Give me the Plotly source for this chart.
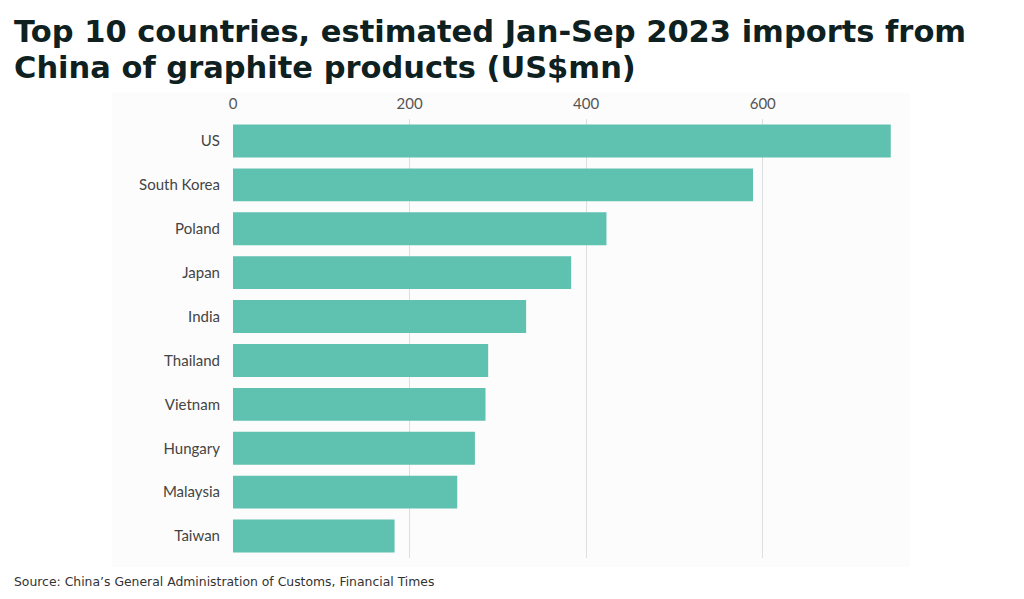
import plotly.graph_objects as go

countries = ["US", "South Korea", "Poland", "Japan", "India", "Thailand",
             "Vietnam", "Hungary", "Malaysia", "Taiwan"]
values = [745, 589, 423, 383, 332, 289, 286, 274, 254, 183]
tick_vals = [0, 200, 400, 600]
tick_text = ["0", "200", "400", "600"]

title_line1 = "<b>Top 10 countries, estimated Jan-Sep 2023 imports from</b>"
title_line2 = "<b>China of graphite products (US$mn)</b>"
source_text = "Source: China\u2019s General Administration of Customs, Financial Times"

fig = go.Figure()
fig.add_trace(go.Bar(
    x=values, y=countries, orientation="h",
    marker=dict(color="#5fc1b0", line=dict(width=0)),
    hoverinfo="x+y",
))

# faint background panel
fig.add_shape(type="rect", xref="paper", yref="paper",
              x0=-0.18, x1=1.009, y0=-0.0205, y1=1.06,
              fillcolor="#fcfcfc", line=dict(width=0), layer="below")

title_font = dict(family="DejaVu Sans", size=30.5, color="#0e2020")

fig.update_layout(
    width=1024, height=599,
    paper_bgcolor="white", plot_bgcolor="rgba(0,0,0,0)",
    margin=dict(l=225, r=128, t=111, b=49),
    bargap=0.25,
    showlegend=False,
    xaxis=dict(range=[0, 760], side="top", tickvals=tick_vals, ticktext=tick_text,
               showgrid=True, gridcolor="#dedede", gridwidth=1, zeroline=False,
               showline=False, ticks="", ticklabelstandoff=6,
               tickfont=dict(family="Lato", size=15, color="#555555")),
    yaxis=dict(autorange="reversed", showgrid=False, zeroline=False, showline=False,
               ticks="", ticklabelstandoff=12,
               tickfont=dict(family="Lato", size=15, color="#444444")),
    annotations=[
        dict(text=title_line1, xref="paper", yref="paper",
             x=-0.3294, y=1.2426, xanchor="left", yanchor="top", align="left",
             showarrow=False, font=title_font),
        dict(text=title_line2, xref="paper", yref="paper",
             x=-0.3294, y=1.1628, xanchor="left", yanchor="top", align="left",
             showarrow=False, font=title_font),
        dict(text=source_text, xref="paper", yref="paper",
             x=-0.3294, y=-0.0524, xanchor="left", yanchor="middle", showarrow=False,
             font=dict(family="DejaVu Sans", size=12.4, color="#333333")),
    ],
)

fig.write_html("out.html")
